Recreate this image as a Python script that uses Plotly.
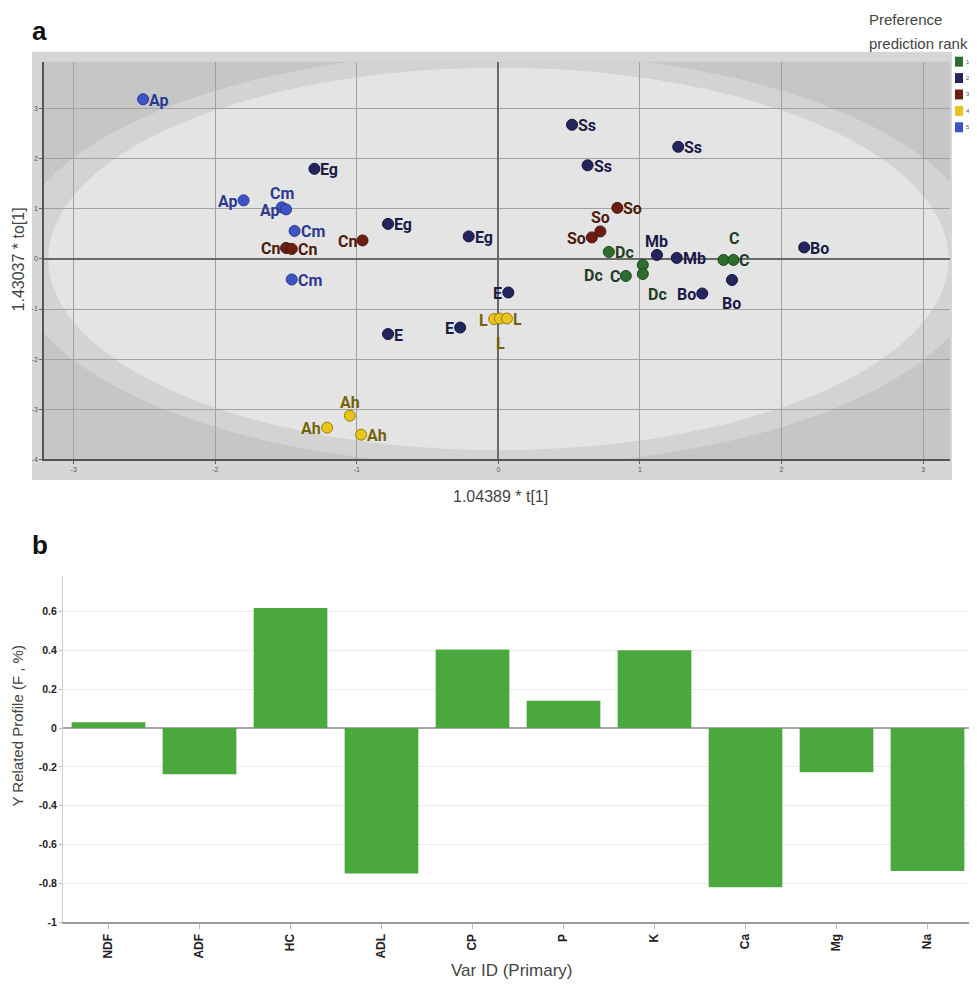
import plotly.graph_objects as go

# page body has an 8px margin: figure drawn at (8, 8)
OFF = 8
W, H = 977 - OFF, 986 - OFF

# ---------------- Panel a data (score plot) ----------------
rank_names = ["1", "2", "3", "4", "5"]
rank_fill = ["#2f6d2f", "#24245f", "#6c1f10", "#e8c41e", "#3e54c6"]
rank_edge = ["#1c461c", "#131340", "#44130a", "#9c7e00", "#27378c"]
rank_text = ["#1f3d1f", "#1a1a48", "#4d1a0c", "#76620a", "#2b3a8e"]

r1_labels = ["Dc", "C", "Dc", "Dc", "C", "C"]
r1_x = [0.78, 0.90, 1.02, 1.02, 1.59, 1.66]
r1_y = [0.14, -0.34, -0.12, -0.30, -0.02, -0.02]

r2_labels = ["Eg", "Eg", "Eg", "E", "E", "E", "Ss", "Ss", "Ss", "Mb", "Mb", "Bo", "Bo", "Bo"]
r2_x = [-1.30, -0.78, -0.21, -0.78, -0.27, 0.07, 0.52, 1.27, 0.63, 1.12, 1.26, 1.44, 1.65, 2.16]
r2_y = [1.80, 0.70, 0.45, -1.50, -1.37, -0.67, 2.68, 2.24, 1.87, 0.08, 0.02, -0.69, -0.42, 0.23]

r3_labels = ["Cn", "Cn", "Cn", "So", "So", "So"]
r3_x = [-1.50, -1.46, -0.96, 0.84, 0.72, 0.66]
r3_y = [0.22, 0.20, 0.37, 1.02, 0.55, 0.43]

r4_labels = ["L", "L", "L", "Ah", "Ah", "Ah"]
r4_x = [-0.03, 0.01, 0.06, -1.05, -1.21, -0.97]
r4_y = [-1.20, -1.19, -1.19, -3.13, -3.37, -3.51]

r5_labels = ["Ap", "Ap", "Cm", "Ap", "Cm", "Cm"]
r5_x = [-2.51, -1.80, -1.53, -1.50, -1.44, -1.46]
r5_y = [3.19, 1.17, 1.03, 0.99, 0.56, -0.41]

x_ticks_a = [-3, -2, -1, 0, 1, 2, 3]
y_ticks_a = [-4, -3, -2, -1, 0, 1, 2, 3]

# ---------------- Panel b data (bar chart) ----------------
var_ids = ["NDF", "ADF", "HC", "ADL", "CP", "P", "K", "Ca", "Mg", "Na"]
profile = [0.03, -0.238, 0.618, -0.748, 0.404, 0.14, 0.40, -0.819, -0.227, -0.736]
y_ticks_b = [-1, -0.8, -0.6, -0.4, -0.2, 0, 0.2, 0.4, 0.6]
y_ticktext_b = ["-1", "-0.8", "-0.6", "-0.4", "-0.2", "0", "0.2", "0.4", "0.6"]

# label placement (style): r=right, l=left, t=top, b=bottom, or (dx, dy) pixel centre offsets
r1_pos = ["r", "l", (-49, -11), (15, -21), (10, 21), "r"]
r2_pos = ["r", "r", "r", "r", "l", "l", "r", "r", "r", "t", "r", "l", (0, -24), "r"]
r3_pos = ["l", "r", "l", "r", "t", "l"]
r4_pos = ["l", (1, -25), "r", "t", "l", "r"]
r5_pos = ["r", "l", "t", "l", "r", "r"]

groups = [
    (r1_labels, r1_x, r1_y, r1_pos),
    (r2_labels, r2_x, r2_y, r2_pos),
    (r3_labels, r3_x, r3_y, r3_pos),
    (r4_labels, r4_x, r4_y, r4_pos),
    (r5_labels, r5_x, r5_y, r5_pos),
]


def px(xs):
    return (xs - OFF) / W


def py(ys):
    return 1 - (ys - OFF) / H


fig = go.Figure()
annotations = []

for i, (labs, xs, ys, poss) in enumerate(groups):
    fig.add_trace(go.Scatter(
        x=xs, y=ys, mode="markers", xaxis="x", yaxis="y",
        marker=dict(size=11, color=rank_fill[i], line=dict(color=rank_edge[i], width=1)),
        showlegend=False, name=rank_names[i], text=labs, hoverinfo="text",
    ))
    for lab, xv, yv, p in zip(labs, xs, ys, poss):
        a = dict(x=xv, y=yv, xref="x", yref="y", text=lab, showarrow=False,
                 font=dict(family="Roboto", size=16, color=rank_text[i], weight="bold"))
        if p == "r":
            a.update(xanchor="left", yanchor="middle", xshift=4, yshift=-1)
        elif p == "l":
            a.update(xanchor="right", yanchor="middle", xshift=-4, yshift=-1)
        elif p == "t":
            a.update(xanchor="center", yanchor="bottom", xshift=0, yshift=2)
        elif p == "b":
            a.update(xanchor="center", yanchor="top", xshift=0, yshift=-2)
        else:
            a.update(xanchor="center", yanchor="middle", xshift=p[0], yshift=p[1])
        annotations.append(a)

# bars
fig.add_trace(go.Bar(
    x=var_ids, y=profile, xaxis="x2", yaxis="y2", width=0.81,
    marker=dict(color="#4ba83e", line=dict(width=0)), showlegend=False,
))

shapes = [
    # grey frame round panel a
    dict(type="rect", xref="paper", yref="paper", x0=px(32), x1=px(952), y0=py(483), y1=py(52),
         fillcolor="#d6d6d6", line=dict(width=0), layer="below"),
    dict(type="rect", xref="x domain", yref="y domain", x0=0, x1=1, y0=0, y1=1,
         fillcolor="#c6c6c6", line=dict(width=0), layer="below"),
    dict(type="circle", xref="x", yref="y", x0=-3.44, x1=3.44, y0=-4.13, y1=4.13,
         fillcolor="#d3d3d3", line=dict(width=0), layer="below"),
    dict(type="circle", xref="x", yref="y", x0=-3.18, x1=3.18, y0=-3.82, y1=3.82,
         fillcolor="#e4e4e4", line=dict(width=0), layer="below"),
]

# legend swatches (rank colour key), stacked down the right edge
legend_top, legend_step = 57, 16.5
for i, name in enumerate(rank_names):
    y0 = legend_top + i * legend_step
    shapes.append(dict(type="rect", xref="paper", yref="paper",
                       x0=px(955), x1=px(963), y0=py(y0 + 10), y1=py(y0),
                       fillcolor=rank_fill[i], line=dict(width=0)))
    annotations.append(dict(text=name, x=px(964), y=py(y0 + 5), xref="paper", yref="paper",
                            showarrow=False, xanchor="left", yanchor="middle",
                            font=dict(family="Liberation Sans", size=6, color="#555")))

txt = "#444444"
annotations += [
    dict(text="a", x=px(40), y=py(31), xref="paper", yref="paper", showarrow=False,
         xanchor="center", yanchor="middle", font=dict(family="Liberation Sans", size=26, color="#111", weight="bold")),
    dict(text="b", x=px(40), y=py(548), xref="paper", yref="paper", showarrow=False,
         xanchor="center", yanchor="middle", font=dict(family="Liberation Sans", size=26, color="#111", weight="bold")),
    dict(text="Preference", x=px(867), y=py(20), xref="paper", yref="paper", showarrow=False,
         xanchor="left", yanchor="middle", font=dict(family="Liberation Sans", size=15, color=txt)),
    dict(text="prediction rank", x=px(867), y=py(44), xref="paper", yref="paper", showarrow=False,
         xanchor="left", yanchor="middle", font=dict(family="Liberation Sans", size=15, color=txt)),
    dict(text="1.04389 * t[1]", x=px(500), y=py(500), xref="paper", yref="paper", showarrow=False,
         xanchor="center", yanchor="middle", font=dict(family="Liberation Sans", size=16, color=txt)),
    dict(text="1.43037 * to[1]", x=px(18), y=py(261), xref="paper", yref="paper", showarrow=False,
         textangle=-90, xanchor="center", yanchor="middle", font=dict(family="Liberation Sans", size=16, color=txt)),
    dict(text="Y Related Profile (F , %)", x=px(18), y=py(731), xref="paper", yref="paper", showarrow=False,
         textangle=-90, xanchor="center", yanchor="middle", font=dict(family="Liberation Sans", size=15, color=txt)),
    dict(text="Var ID (Primary)", x=px(512), y=py(976), xref="paper", yref="paper", showarrow=False,
         xanchor="center", yanchor="middle", font=dict(family="Liberation Sans", size=17, color=txt)),
]

fig.update_layout(
    width=W, height=H,
    margin=dict(l=0, r=0, t=0, b=0),
    paper_bgcolor="white", plot_bgcolor="white",
    font=dict(family="Liberation Sans", color=txt),
    showlegend=False,
    xaxis=dict(domain=[px(44), px(950)], anchor="y", range=[-3.21, 3.19],
               tickvals=x_ticks_a, ticktext=[str(v) for v in x_ticks_a],
               showgrid=True, gridcolor="#a2a2a2", gridwidth=1,
               zeroline=True, zerolinecolor="#6a6a6a", zerolinewidth=1.5,
               showline=True, linecolor="#555555", linewidth=1.5,
               ticks="outside", ticklen=3, tickcolor="#666", tickfont=dict(size=7, color="#555")),
    yaxis=dict(domain=[py(462), py(62)], anchor="x", range=[-4, 3.94],
               tickvals=y_ticks_a, ticktext=[str(v) for v in y_ticks_a],
               showgrid=True, gridcolor="#a2a2a2", gridwidth=1,
               zeroline=True, zerolinecolor="#6a6a6a", zerolinewidth=1.5,
               showline=True, linecolor="#555555", linewidth=1.5,
               ticks="outside", ticklen=3, tickcolor="#666", tickfont=dict(size=7, color="#555")),
    xaxis2=dict(domain=[px(63), px(973)], anchor="y2", range=[-0.5, 9.5],
                showgrid=False, zeroline=False,
                showline=True, linecolor="#9a9a9a", linewidth=1.5,
                ticks="outside", ticklen=5, tickcolor="#bbb", tickangle=-90,
                tickfont=dict(size=12, color="#222", weight="bold")),
    yaxis2=dict(domain=[py(928), py(580)], anchor="x2", range=[-1, 0.78],
                tickvals=y_ticks_b, ticktext=y_ticktext_b,
                showgrid=True, gridcolor="#ececec", gridwidth=1,
                zeroline=True, zerolinecolor="#a6a6a6", zerolinewidth=2,
                showline=True, linecolor="#cfcfcf", linewidth=1,
                ticks="outside", ticklen=3, tickcolor="#bbb",
                tickfont=dict(size=10.5, color="#222", weight="bold")),
    shapes=shapes,
    annotations=annotations,
)

fig.write_html("out.html", config={"displayModeBar": False})
